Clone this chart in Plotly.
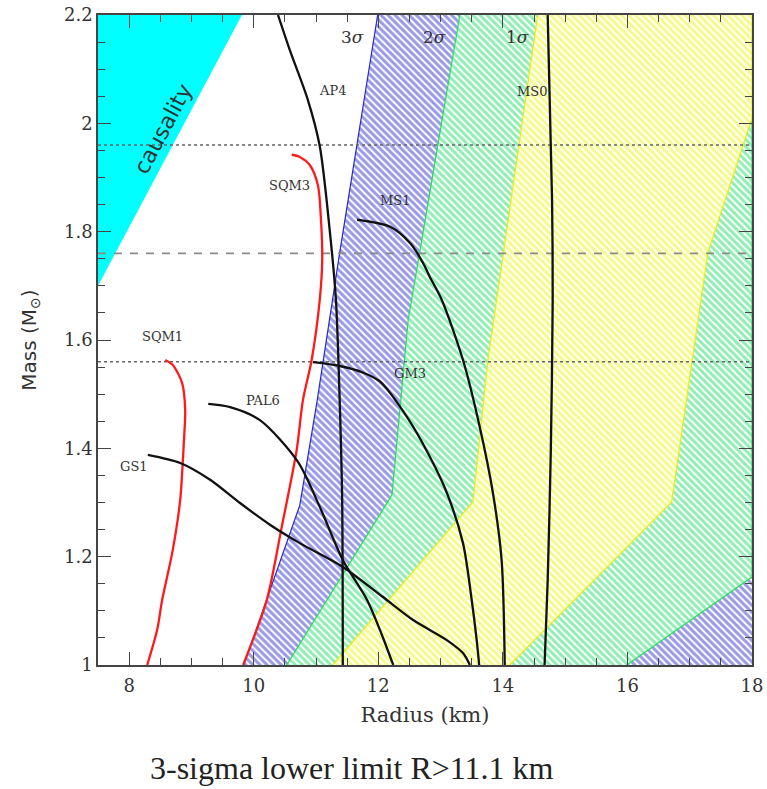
import plotly.graph_objects as go

# ---- confidence regions (radius km, mass Msun) ----
sigma3_left_R = [9.84, 10.74, 11.02, 11.38, 11.99]
sigma3_left_M = [1.0, 1.295, 1.489, 1.761, 2.2]

sigma2_left_R = [10.53, 12.22, 12.48, 13.31]
sigma2_left_M = [1.0, 1.314, 1.637, 2.2]
sigma2_right_R = [18.0, 15.99]
sigma2_right_M = [1.1625, 1.0]

sigma1_left_R = [11.27, 13.52, 13.76, 13.90, 14.56]
sigma1_left_M = [1.0, 1.301, 1.563, 1.674, 2.2]
sigma1_right_R = [18.0, 17.29, 16.71, 14.11]
sigma1_right_M = [2.01, 1.761, 1.301, 1.0]

causality_R = [7.5, 9.81, 7.5]
causality_M = [1.7, 2.2, 2.2]

# ---- mass-radius relations ----
ap4_R = [10.39, 10.58, 10.87, 11.06, 11.22, 11.32, 11.38, 11.42, 11.43]
ap4_M = [2.2, 2.135, 2.043, 1.958, 1.803, 1.674, 1.489, 1.305, 1.0]

ms0_R = [14.72, 14.79, 14.80, 14.77, 14.72, 14.67]
ms0_M = [2.2, 1.858, 1.674, 1.397, 1.157, 1.0]

ms1_R = [11.66, 12.19, 12.51, 12.72, 12.83, 13.02, 13.36, 13.63, 13.84, 13.98, 14.03]
ms1_M = [1.822, 1.809, 1.779, 1.742, 1.716, 1.674, 1.563, 1.439, 1.318, 1.194, 1.0]

gm3_R = [10.95, 11.38, 11.75, 12.03, 12.46, 12.83, 13.10, 13.36, 13.50, 13.58, 13.62]
gm3_M = [1.559, 1.552, 1.540, 1.523, 1.458, 1.384, 1.318, 1.225, 1.120, 1.046, 1.0]

pal6_R = [9.27, 9.62, 10.10, 10.71, 11.06, 11.43, 11.82, 12.06, 12.24]
pal6_M = [1.482, 1.476, 1.452, 1.375, 1.292, 1.194, 1.120, 1.055, 1.0]

gs1_R = [8.30, 8.82, 9.30, 9.78, 10.26, 10.74, 11.43, 12.07, 12.56, 13.10, 13.36, 13.47]
gs1_M = [1.388, 1.373, 1.342, 1.299, 1.259, 1.225, 1.181, 1.126, 1.083, 1.046, 1.022, 1.0]

sqm1_R = [8.58, 8.70, 8.85, 8.90, 8.88, 8.86, 8.82, 8.70, 8.53, 8.45, 8.29]
sqm1_M = [1.563, 1.554, 1.521, 1.471, 1.415, 1.373, 1.305, 1.212, 1.120, 1.065, 1.0]

sqm3_R = [10.61, 10.74, 10.90, 11.03, 11.08, 11.10, 11.06, 10.93, 10.79, 10.69, 10.45, 10.21, 9.83]
sqm3_M = [1.942, 1.938, 1.923, 1.886, 1.822, 1.748, 1.674, 1.563, 1.489, 1.397, 1.255, 1.120, 1.0]

# reference masses
dotted_masses = [1.96, 1.56]
dashed_mass = 1.76

# curve labels: text, R, M
label_text = ["AP4", "SQM3", "MS1", "MS0", "GM3", "PAL6", "SQM1", "GS1"]
label_R = [11.27, 10.58, 12.27, 14.47, 12.51, 10.15, 8.53, 8.07]
label_M = [2.06, 1.886, 1.858, 2.058, 1.539, 1.489, 1.606, 1.367]

sigma_text = ["3<i>σ</i>", "2<i>σ</i>", "1<i>σ</i>"]
sigma_R = [11.58, 12.91, 14.23]
sigma_M = [2.159, 2.159, 2.159]

X_MIN, X_MAX = 7.5, 18.0
Y_MIN, Y_MAX = 1.0, 2.2

fig = go.Figure()


def region(left_R, left_M, right_R, right_M, fg, edge, solidity):
    xs = list(left_R) + list(right_R)
    ys = list(left_M) + list(right_M)
    fig.add_trace(go.Scatter(
        x=xs + [xs[0]], y=ys + [ys[0]], mode="lines", fill="toself",
        line=dict(width=0, color=edge),
        fillpattern=dict(shape="\\", fgcolor=fg, bgcolor="white",
                         size=5, solidity=solidity),
        hoverinfo="skip", showlegend=False))
    for bx, by in ((left_R, left_M), (right_R, right_M)):
        fig.add_trace(go.Scatter(x=bx, y=by, mode="lines",
                                 line=dict(color=edge, width=1.2),
                                 hoverinfo="skip", showlegend=False))


# 3-sigma (outermost), then 2-sigma, then 1-sigma on top
region(sigma3_left_R, sigma3_left_M, [X_MAX + 1, X_MAX + 1], [Y_MAX, Y_MIN],
       "#3636cc", "#2828c8", 0.6)
region(sigma2_left_R, sigma2_left_M, [X_MAX] + sigma2_right_R,
       [Y_MAX] + sigma2_right_M, "#26dc6c", "#22e05a", 0.6)
region(sigma1_left_R, sigma1_left_M, [X_MAX] + sigma1_right_R,
       [Y_MAX] + sigma1_right_M, "#ecf41e", "#e8ee10", 0.62)

# causality-excluded wedge
fig.add_trace(go.Scatter(x=causality_R + [causality_R[0]],
                         y=causality_M + [causality_M[0]],
                         mode="lines", fill="toself", fillcolor="#00ffff",
                         line=dict(width=0), hoverinfo="skip",
                         showlegend=False))

# horizontal reference masses
for m in dotted_masses:
    fig.add_trace(go.Scatter(x=[X_MIN, X_MAX], y=[m, m], mode="lines",
                             line=dict(color="#666666", width=1.5, dash="dot"),
                             hoverinfo="skip", showlegend=False))
fig.add_trace(go.Scatter(x=[X_MIN, X_MAX], y=[dashed_mass, dashed_mass],
                         mode="lines",
                         line=dict(color="#8a8a8a", width=1.6, dash="8px,8px"),
                         hoverinfo="skip", showlegend=False))

# mass-radius curves
for r, m, c in [(sqm1_R, sqm1_M, "#ff1a1a"), (sqm3_R, sqm3_M, "#ff1a1a"),
                (ap4_R, ap4_M, "#111111"), (ms0_R, ms0_M, "#111111"),
                (ms1_R, ms1_M, "#111111"), (gm3_R, gm3_M, "#111111"),
                (pal6_R, pal6_M, "#111111"), (gs1_R, gs1_M, "#111111")]:
    fig.add_trace(go.Scatter(x=r, y=m, mode="lines",
                             line=dict(color=c, width=2.3, shape="spline",
                                       smoothing=0.8),
                             hoverinfo="skip", showlegend=False))

annotations = []
for t, r, m in zip(label_text, label_R, label_M):
    annotations.append(dict(x=r, y=m, text=t, showarrow=False,
                            font=dict(family="DejaVu Serif", size=13,
                                      color="#333333")))
for t, r, m in zip(sigma_text, sigma_R, sigma_M):
    annotations.append(dict(x=r, y=m, text=t, showarrow=False,
                            font=dict(family="DejaVu Serif", size=17,
                                      color="#333333")))
annotations.append(dict(x=8.55, y=1.99, text="causality", showarrow=False,
                        textangle=-62,
                        font=dict(family="DejaVu Sans", size=22,
                                  color="#333333")))
annotations.append(dict(x=0.388, y=-0.158, xref="paper", yref="paper",
                        xanchor="center", yanchor="middle",
                        text="3-sigma lower limit R>11.1 km", showarrow=False,
                        font=dict(family="Liberation Serif", size=32,
                                  color="#222222")))

axis_common = dict(showline=True, linecolor="#444444", linewidth=1.5,
                   mirror="allticks", ticks="inside", ticklen=13,
                   tickcolor="#444444", tickwidth=1.2, showgrid=False,
                   zeroline=False, automargin=False,
                   tickfont=dict(family="DejaVu Serif", size=18,
                                 color="#333333"))

fig.update_xaxes(range=[X_MIN, X_MAX], tick0=8, dtick=2,
                 ticklabelstandoff=4,
                 minor=dict(dtick=0.5, ticklen=7, ticks="inside",
                            tickcolor="#444444", showgrid=False),
                 title=dict(text="Radius (km)", standoff=12,
                            font=dict(family="DejaVu Serif", size=21,
                                      color="#333333")),
                 **axis_common)
fig.update_yaxes(range=[Y_MIN, Y_MAX], tick0=1, dtick=0.2,
                 minor=dict(dtick=0.05, ticklen=7, ticks="inside",
                            tickcolor="#444444", showgrid=False),
                 title=dict(text="Mass (M<sub>⊙</sub>)", standoff=22,
                            font=dict(family="DejaVu Sans", size=20,
                                      color="#333333")),
                 **axis_common)

fig.update_layout(width=767, height=789,
                  margin=dict(l=98, r=15, t=15, b=124),
                  paper_bgcolor="white", plot_bgcolor="white",
                  annotations=annotations)

fig.write_html("out.html")
